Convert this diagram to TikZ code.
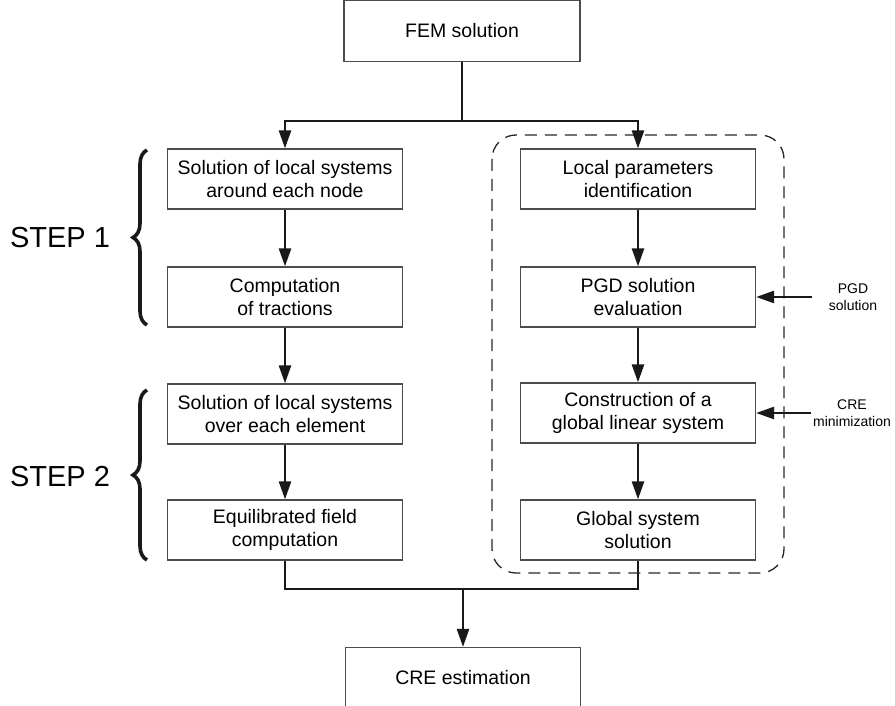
\documentclass[tikz,border=0pt]{standalone}
\usepackage{fontspec}
\setmainfont{Liberation Sans}
\usetikzlibrary{arrows.meta,decorations.pathreplacing}

\begin{document}
\begin{tikzpicture}[x=1pt, y=-1pt, line join=miter,
	box/.style={draw=black!70, line width=1.2pt, minimum width=235pt, minimum height=60pt,
		inner sep=0pt, align=center, font=\fontsize{19.5}{23.5}\selectfont},
	link/.style={draw=black!90, line width=2.5pt},
	arr/.style={link, -{Triangle[length=18pt, width=12pt]}},
	side/.style={align=center, font=\fontsize{14}{17}\selectfont},
	stepname/.style={font=\fontsize{29}{34}\selectfont},
	bracket/.style={decorate, decoration={brace, amplitude=14pt}, line width=3.6pt, draw=black!90},
	group/.style={draw=black!85, line width=1.3pt, dash pattern=on 12pt off 8pt, rounded corners=24pt}]
	% Page size
	\useasboundingbox (0,0) rectangle (895,706);
	
	% Boxes
	\node[box, minimum width=236pt, minimum height=61pt] (fem) at (462,31) {FEM solution};
	
	\node[box] (s1a) at (285,179) {Solution of local systems\\around each node};
	\node[box] (s1b) at (285,297) {Computation\\of tractions};
	\node[box] (s2a) at (285,414) {Solution of local systems\\over each element};
	\node[box] (s2b) at (285,530) {Equilibrated field\\computation};
	
	\node[box] (r1) at (638,179) {Local parameters\\identification};
	\node[box] (r2) at (638,297) {PGD solution\\evaluation};
	\node[box] (r3) at (638,413) {Construction of a\\global linear system};
	\node[box] (r4) at (638,530) {Global system\\solution};
	
	\node[box, minimum height=61pt] (cre) at (463,678) {CRE estimation};
	
	% Dashed group round the right column
	\draw[group] (492,135) rectangle (784,573);
	
	% Split and merge
	\coordinate (split) at (462,121);
	\coordinate (merge) at (463,589);
	\draw[link] (fem.south) -- (split);
	\draw[arr] (split) -| (s1a.north);
	\draw[arr] (split) -| (r1.north);
	
	\foreach \a/\b in {s1a/s1b, s1b/s2a, s2a/s2b, r1/r2, r2/r3, r3/r4}
	\draw[arr] (\a) -- (\b);
	
	\draw[link] (s2b.south) |- (merge) -| (r4.south);
	\draw[arr] (merge) -- (cre.north);
	
	% Inputs from the side
	\coordinate (pgdin) at (812,297);
	\coordinate (crein) at (811,413);
	\draw[arr] (pgdin) -- (r2.east);
	\draw[arr] (crein) -- (r3.east);
	\node[side] (pgdlbl) at (853,297) {PGD\\solution};
	\node[side] (crelbl) at (852,413) {CRE\\minimization};
	
	% Steps
	\draw[bracket] (147,325) -- (147,150);
	\draw[bracket] (147,560) -- (147,390);
	\node[stepname] (step1) at (60,238) {STEP 1};
	\node[stepname] (step2) at (60,477) {STEP 2};
\end{tikzpicture}
\end{document}
